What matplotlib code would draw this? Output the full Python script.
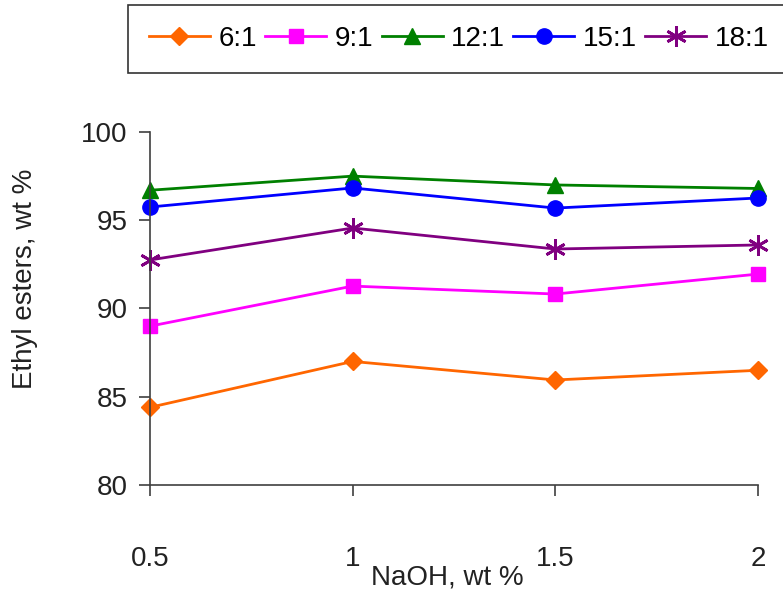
import matplotlib
matplotlib.use("Agg")
import matplotlib.pyplot as plt

naoh = [0.5, 1.0, 1.5, 2.0]
labels = ["6:1", "9:1", "12:1", "15:1", "18:1"]
y61 = [84.4, 87.0, 85.95, 86.5]
y91 = [89.0, 91.27, 90.82, 91.95]
y121 = [96.7, 97.5, 97.0, 96.8]
y151 = [95.75, 96.83, 95.69, 96.26]
y181 = [92.75, 94.56, 93.37, 93.6]

series = [y61, y91, y121, y151, y181]
colors = ["#FF6600", "#FF00FF", "#008000", "#0000FF", "#800080"]
markers = ["D", "s", "^", "o", (6, 2, 0)]
msizes = [9, 10, 11, 11, 15]

plt.rcParams['font.family'] = ['Liberation Sans', 'DejaVu Sans']

fig = plt.figure(figsize=(7.83, 6.01), dpi=100)
ax = fig.add_axes([150/783, 1-485/601, (758-150)/783, (485-132)/601])

handles = []
for ys, c, m, ms, lab in zip(series, colors, markers, msizes, labels):
    mew = 2 if isinstance(m, tuple) else 1
    h, = ax.plot(naoh, ys, color=c, marker=m, markersize=ms, linewidth=2,
                 markeredgecolor=c, markerfacecolor=c, markeredgewidth=mew,
                 label=lab, clip_on=False)
    handles.append(h)

ax.set_xlim(0.5, 2)
ax.set_ylim(80, 100)
ax.set_xticks(naoh)
ax.set_xticklabels(["0.5", "1", "1.5", "2"])
ax.set_yticks([80, 85, 90, 95, 100])
for s in ["top", "right"]:
    ax.spines[s].set_visible(False)
for s in ["left", "bottom"]:
    ax.spines[s].set_color("#404040")
    ax.spines[s].set_linewidth(1.2)
ax.tick_params(axis='both', direction='out', length=8, width=1.2, color="#404040",
               labelsize=20, labelcolor="#222222")
ax.tick_params(axis='x', pad=36)
ax.tick_params(axis='y', pad=8)
ax.set_xlabel("NaOH, wt %", fontsize=20, color="#222222")
ax.set_ylabel("Ethyl esters, wt %", fontsize=20, color="#222222")
ax.xaxis.set_label_coords((447-150)/608, -(590-485)/353)
ax.xaxis.label.set_va('bottom')
ax.yaxis.set_label_coords(-(150-38)/608, (485-279)/353)

leg = fig.legend(handles=handles, labels=labels, ncol=5, loc='upper left',
                 bbox_to_anchor=(128/783, 1-5/601), bbox_transform=fig.transFigure,
                 fontsize=20, frameon=True, fancybox=False, edgecolor="black",
                 handlelength=2.2, handletextpad=0.3, columnspacing=0.3,
                 borderpad=0.75, borderaxespad=0)
leg.get_frame().set_linewidth(1.2)

fig.savefig("out.png", dpi=100)
